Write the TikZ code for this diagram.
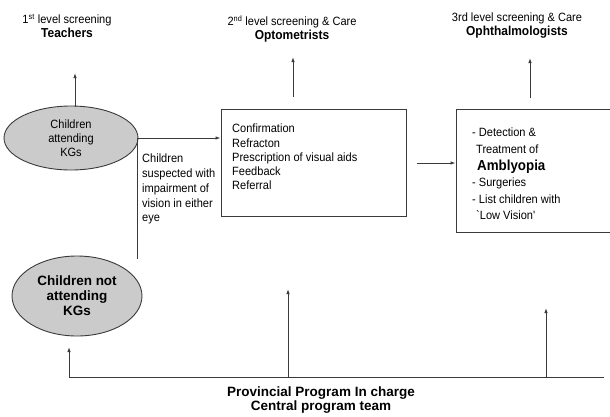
\documentclass[tikz,border=0pt]{standalone}
\usepackage{fontspec}
\setmainfont{Liberation Sans}
\newfontfamily\narrowfont[FakeStretch=0.92]{Liberation Sans}
\usetikzlibrary{arrows.meta,shapes.geometric}
\definecolor{ln}{HTML}{3A3A3A}
\definecolor{ellfill}{HTML}{CBCBCB}
\tikzset{
  conn/.style={draw=ln, line width=0.9pt},
  arr/.style={conn, -{Latex[length=5pt,width=3.5pt]}},
  ell/.style={ellipse, draw=ln, line width=0.9pt, fill=ellfill, align=center, inner sep=0pt},
  boxn/.style={draw=ln, line width=0.9pt, fill=white, inner sep=0pt},
  lbl/.style={align=center, font=\narrowfont\fontsize{12}{13}\selectfont, inner sep=0pt},
  txt/.style={align=left, font=\narrowfont\fontsize{12}{14.2}\selectfont, inner sep=0pt},
}
\begin{document}
\begin{tikzpicture}[x=1pt,y=-1pt]
\useasboundingbox (0,0) rectangle (610,416);
% top labels
\node[lbl] (l1) at (67,26) {1\textsuperscript{st} level screening\\[1pt]{\bfseries\fontsize{13}{14}\selectfont Teachers}};
\node[lbl] (l2) at (292,29) {2\textsuperscript{nd} level screening \& Care\\[1pt]{\bfseries\fontsize{13}{14}\selectfont Optometrists}};
\node[lbl] (l3) at (517,26) {3rd level screening \& Care\\[1pt]{\bfseries\fontsize{13}{14}\selectfont Ophthalmologists}};
% ellipses
\node[ell, minimum width=134pt, minimum height=64pt, font=\narrowfont\fontsize{12}{14}\selectfont] (e1) at (71,138) {Children\\attending\\KGs};
\node[ell, minimum width=130pt, minimum height=80pt, font=\bfseries\fontsize{13.5}{15}\selectfont] (e2) at (77,296) {Children not\\attending\\KGs};
% boxes
\node[boxn, minimum width=185pt, minimum height=107pt] (b1) at (313.5,162.5) {};
\node[txt, anchor=north west] (b1t) at (232,124) {Confirmation\\Refracton\\Prescription of visual aids\\Feedback\\Referral};
\node[boxn, minimum width=156pt, minimum height=123pt] (b2) at (534,170.5) {};
\node[txt, anchor=north west, font=\narrowfont\fontsize{12}{16.6}\selectfont] (b2t) at (472,128) {- Detection \&\\\hspace{4pt}Treatment of\\\hspace{5pt}{\bfseries\fontsize{14.5}{16}\selectfont Amblyopia}\\- Surgeries\\- List children with\\\hspace{4pt}`Low Vision'};
% side label
\node[txt, anchor=north west, font=\narrowfont\fontsize{12}{14.7}\selectfont] (side) at (142,154) {Children\\suspected with\\impairment of\\vision in either\\eye};
% connectors
\coordinate (j1) at (137,138);
\coordinate (j2) at (137,259);
\draw[conn] (j2) -- (j1);
\draw[conn] (e1.east) -- (j1);
\draw[arr] (j1) -- (b1.west |- j1);
\coordinate (a1s) at (417,163);
\draw[arr] (a1s) -- (b2.west |- a1s);
% up arrows at top
\coordinate (u1) at (75,73);
\coordinate (u1s) at (75,107);
\draw[arr] (u1s) -- (u1);
\coordinate (u2s) at (293,97);
\coordinate (u2) at (293,57);
\draw[arr] (u2s) -- (u2);
\coordinate (u3s) at (530,98);
\coordinate (u3) at (530,58);
\draw[arr] (u3s) -- (u3);
% bottom
\coordinate (bl) at (69,377);
\coordinate (bm) at (288,377);
\coordinate (br3) at (546,377);
\coordinate (br) at (604,377);
\draw[conn] (bl) -- (br);
\coordinate (bl2) at (69,347);
\coordinate (bm2) at (288,289);
\coordinate (br2) at (546,308);
\draw[arr] (bl) -- (bl2);
\draw[arr] (bm) -- (bm2);
\draw[arr] (br3) -- (br2);
\node[lbl, font=\bfseries\fontsize{13.5}{14}\selectfont] (bot) at (321,400) {Provincial Program In charge\\Central program team};
\end{tikzpicture}
\end{document}
